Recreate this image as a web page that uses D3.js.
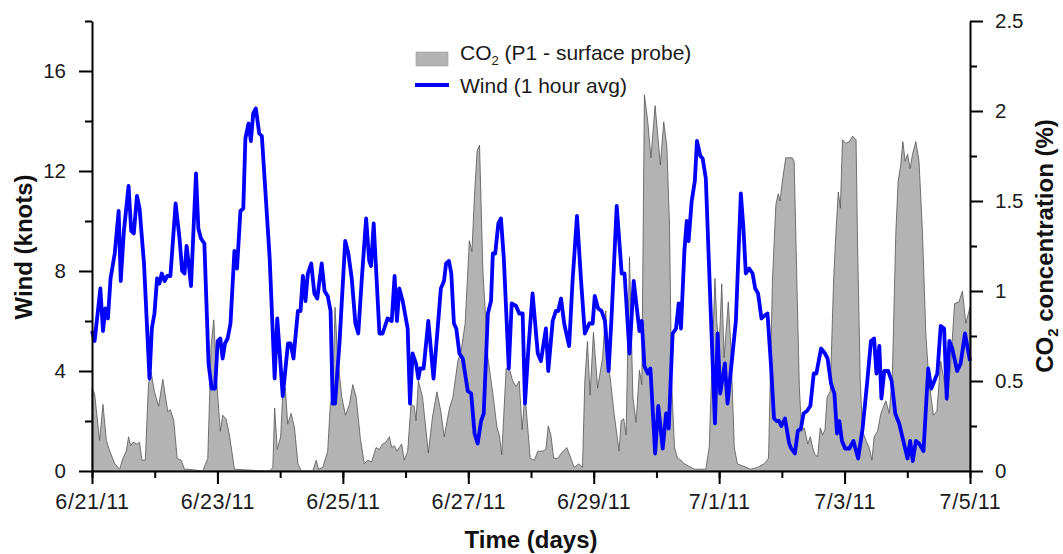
<!DOCTYPE html>
<html>
<head>
<meta charset="utf-8">
<script src="https://cdn.jsdelivr.net/npm/d3@7"></script>
<style>
  body { margin: 0; background: #fff; }
  svg { display: block; font-family: "Liberation Sans", Arial, sans-serif; }
  .axis path, .axis line { stroke: #000; stroke-width: 2; }
  .axis text { fill: #1a1a1a; }
</style>
</head>
<body>
<div id="chart"></div>
<script>
// hours since 6/21/11 00:00 and wind speed (knots), 1 hour average
const windHours = [0, 1, 3.2, 4.2, 5.1, 6.1, 7.1, 8.7, 10.2, 11, 12.2, 14, 15, 16, 17.2, 18.2, 19.9, 22, 22.9, 23.9,
  24.9, 25.8, 26.7, 27.8, 28.8, 30, 32, 33.5, 34.5, 35.4, 36.2, 37, 37.9, 39.8, 40.7, 41.7, 43, 44.6, 45.8, 47.1,
  48.1, 49.1, 50, 50.9, 51.9, 53, 54.5, 55.5, 56.8, 57.9, 58.7, 59.9, 60.8, 61.7, 62.7, 64, 65, 68, 69.9, 70.9,
  73, 75, 76, 77.1, 78.8, 79.8, 80.7, 81.7, 82.6, 83.9, 85.1, 86.2, 87.9, 89, 90.2, 91.3, 92.1, 93, 94.7, 96.9,
  98.1, 99.4, 100.8, 101.9, 103.2, 104.9, 106.1, 106.8, 107.8, 110, 111.2, 113.1, 114.7, 115.8, 116.7, 117.6, 118.9, 120.8, 121.7, 122.7,
  124, 124.9, 125.6, 126.9, 128.7, 130.7, 132.2, 133.5, 134.7, 135.5, 136.6, 137.5, 138.5, 139.4, 140.6, 141.9, 143.8, 145.1, 146.4, 147.6,
  148.9, 149.9, 151.5, 152.7, 153.4, 154.3, 155.5, 156.5, 157.6, 159.5, 160.6, 162.3, 163.5, 164.8, 165.7, 167, 168.6, 170.6, 171.8, 173.7,
  174.6, 176.3, 177.5, 178.4, 179.5, 180.7, 182.6, 183.9, 185.6, 187.1, 188.6, 190.3, 191.6, 192.4, 193.7, 195, 196.3, 197.7, 198.8, 200.8,
  202.7, 203.8, 205.7, 207.3, 209.5, 210.4, 211.4, 212.7, 213.7, 215.5, 216.7, 218.4, 219.7, 220.7, 222.2, 223.5, 224.5, 225.4, 226.7, 227.6,
  228.3, 229.5, 230.7, 231.5, 232.8, 233.7, 234.9, 236.8, 238.4, 239.4, 240.4, 242.2, 243.2, 246.4, 248.3, 249.3, 250.2, 251.5, 252.8, 253.8,
  254.9, 256.2, 257.2, 258.5, 259.8, 261, 262, 262.9, 263.8, 265.2, 266.8, 267.6, 269, 270.1, 271.3, 272.3, 273.6, 274.9, 276.2, 277.2,
  279, 280.5, 281.5, 282.8, 284.1, 285.1, 286, 287, 288.2, 289.8, 291.4, 293.2, 294.9, 296.6, 298.1, 299.3, 300.2, 301.3, 302.1, 303.2,
  304.7, 306, 307.4, 308.9, 310.5, 312.1, 313.1, 314.1, 315.3, 316.5, 318.2, 320, 321.2, 323.5, 324.8, 326.1, 327.1, 328.1, 329.2, 331.1,
  332.4, 334.1, 336];
const windKnots = [5.6, 5.2, 7.3, 5.6, 6.5, 6.1, 7.7, 8.7, 10.4, 7.6, 9.6, 11.4, 9.6, 9.5, 11, 10.5, 8.3, 3.7, 5.7, 6.3,
  7.7, 7.5, 7.9, 7.6, 7.8, 7.8, 10.7, 9.3, 8, 7.9, 9, 8.3, 7.4, 11.9, 9.7, 9.3, 9.1, 4.3, 3.3, 3.3,
  5.2, 5.3, 4.5, 5.1, 5.3, 5.9, 8.8, 8.1, 10.4, 10.5, 13.3, 13.9, 13.2, 14.3, 14.5, 13.5, 13.4, 8.5, 3.7, 6.1,
  3, 5.1, 5.1, 4.5, 6.4, 6.4, 7.8, 6.8, 7.9, 8.3, 7.1, 6.9, 8.3, 7.2, 7, 6.4, 2.7, 2.7, 5.1, 9.2,
  8.7, 7.7, 5.9, 5.5, 7.6, 10.1, 8.4, 8.2, 9.9, 5.5, 5.5, 6.1, 6, 7.8, 6, 7.3, 6.8, 5.7, 2.7, 4.7,
  4.3, 3.7, 4.1, 4.1, 6, 3.7, 5.6, 7.3, 7.6, 8.3, 8.4, 7.9, 5.9, 5.7, 4.7, 4.5, 3.2, 3.1, 1.5, 1.1,
  2, 2.3, 6.3, 6.8, 8.7, 8.7, 9.9, 10.1, 8.5, 4.1, 6.7, 6.6, 6.3, 6.3, 2.7, 4.9, 7.1, 4.7, 4.4, 5.7,
  4, 6, 6.4, 6.4, 6.9, 5.9, 5, 7.6, 10.2, 7.7, 5.5, 5.9, 5.9, 7, 6.5, 6.4, 6, 4, 6.1, 10.6,
  7.9, 7.9, 4.7, 7.6, 5.6, 6, 4.2, 3.9, 4.1, 0.7, 2.6, 0.9, 2.3, 1.7, 5.5, 5.7, 6.7, 5.7, 8.8, 10,
  9.2, 10.8, 11.6, 13.2, 12.6, 12.5, 11.7, 6.3, 1.9, 5.5, 3.1, 4.3, 2.7, 6, 11.1, 9.7, 7.9, 8.1, 7.9, 7.3,
  7.1, 6.1, 6.2, 6.3, 4.3, 2.1, 2, 2, 1.8, 2.1, 1.1, 0.9, 0.7, 1.6, 1.7, 2.3, 2.4, 2.6, 3.9, 3.9,
  4.9, 4.7, 4.5, 3.5, 3.1, 1.5, 2, 1.2, 0.9, 0.9, 1.2, 0.5, 1.7, 3.5, 5.2, 5.3, 3.9, 5, 2.9, 4,
  4, 3.6, 2.3, 1.9, 1.2, 0.5, 1.2, 0.4, 1.2, 1.1, 0.8, 4.1, 3.3, 3.9, 5.8, 5.7, 2.9, 5.2, 4.9, 4,
  4.3, 5.5, 4.4];

// hours since 6/21/11 00:00 and CO2 concentration (%), P1 surface probe
const co2Hours = [0, 1, 2.9, 4.2, 5.5, 6.8, 8.7, 10.6, 11.8, 13.1, 14, 14.8, 15.7, 17.3, 18.2, 19.1, 20.4, 21.6, 22.6, 23.9,
  25.5, 27.1, 29, 30, 31.3, 32.6, 34.1, 35.4, 36.7, 42.4, 44.3, 45.6, 46.6, 47.8, 49.1, 50, 51.3, 52.6, 54.5, 66.1,
  68, 69.2, 69.9, 70.9, 72.2, 73, 74, 74.9, 76.2, 77.5, 78.8, 80.1, 84.5, 85.8, 86.7, 88.3, 90.2, 91.2, 92.1, 93,
  94, 95.6, 97, 98.5, 99.8, 101.1, 102.7, 104.2, 105.5, 107, 108.7, 110, 111.2, 112.5, 113.8, 114.7, 115.7, 116.7, 117.6, 118.5,
  119.5, 120.8, 122.1, 123.3, 124, 124.9, 126.5, 128.7, 130.3, 132, 133.5, 134.8, 136.8, 138.1, 140, 141.3, 142.8, 144.4, 145.4, 146.4,
  147.4, 148.3, 149.6, 151.5, 153.4, 155, 155.9, 156.8, 158.5, 159.7, 161, 162.3, 163.5, 164.6, 165.7, 167.7, 169.3, 170.6, 172.5, 173.7,
  174.6, 175.6, 176.7, 178.2, 179.7, 181.7, 183.3, 184.5, 186.4, 187.7, 188.6, 189.6, 190.6, 191.9, 193.5, 195.4, 196.6, 197.9, 199.8, 201.7,
  202.5, 203.5, 204.4, 205.7, 207, 208.2, 209.5, 210.4, 211.4, 212.7, 213.9, 215.5, 217.5, 218.8, 220, 221, 221.8, 222.9, 224.1, 225.4,
  226.7, 230.5, 234.9, 236.2, 237.4, 238.4, 239.1, 240, 241, 241.9, 243.5, 244.5, 245.8, 247, 252.1, 254.7, 257.2, 258.9, 260.4, 261.7,
  262.6, 263.3, 264.2, 265.5, 266.8, 268, 268.7, 270.7, 271.6, 272.6, 273.9, 274.9, 275.8, 276.7, 277.7, 278.7, 279.6, 280.5, 281.3, 282.5,
  283.8, 284.7, 285.6, 286.4, 287.2, 288.5, 289.8, 291.1, 292.4, 293, 294, 294.9, 296.2, 297.4, 298.5, 299.3, 300.6, 301.9, 303.8, 305.1,
  306.3, 307.6, 308.5, 309.5, 310.3, 311.2, 312.1, 313.1, 314, 315.3, 316.5, 317.8, 319.1, 320.3, 322, 323.3, 324.8, 326.1, 327.3, 328.6,
  330.1, 331.8, 333.1, 334.4, 336];
const co2Pct = [0.46, 0.43, 0.17, 0.37, 0.17, 0.11, 0.04, 0.01, 0.07, 0.11, 0.19, 0.14, 0.16, 0.15, 0.16, 0.06, 0.06, 0.48, 0.55, 0.44,
  0.36, 0.51, 0.33, 0.34, 0.28, 0.07, 0.06, 0.01, 0.01, 0, 0.07, 0.7, 0.84, 0.48, 0.22, 0.31, 0.29, 0.2, 0.01, 0,
  0, 0.02, 0.35, 0.12, 0.19, 0.43, 0.46, 0.26, 0.32, 0.24, 0.04, 0, 0, 0.06, 0.01, 0.02, 0.11, 0.37, 0.41, 0.91,
  0.63, 0.41, 0.31, 0.37, 0.48, 0.41, 0.18, 0.04, 0.06, 0.05, 0.13, 0.12, 0.15, 0.16, 0.19, 0.13, 0.14, 0.11, 0.13, 0.15,
  0.06, 0.11, 0.37, 0.36, 0.28, 0.5, 0.41, 0.1, 0.3, 0.44, 0.33, 0.19, 0.35, 0.41, 0.61, 0.67, 0.82, 1.28, 1.22, 1.54,
  1.78, 1.81, 1.11, 0.63, 0.43, 0.24, 0.2, 0.09, 0.57, 0.57, 0.5, 0.47, 0.5, 0.23, 0.43, 0.07, 0.06, 0.11, 0.11, 0.12,
  0.25, 0.2, 0.07, 0.07, 0.1, 0.13, 0.07, 0.02, 0.04, 0.02, 0.5, 0.72, 0.42, 0.77, 0.46, 0.63, 0.89, 0.57, 0.32, 0.11,
  0.28, 0.29, 0.2, 1.19, 0.41, 0.27, 0.56, 0.48, 2.09, 1.94, 1.74, 2.03, 1.7, 1.94, 1.8, 1.37, 0.5, 0.13, 0.07, 0.06,
  0.04, 0.01, 0.01, 0.13, 0.65, 1.07, 0.83, 0.69, 1.04, 0.63, 0.94, 0.69, 0.13, 0.04, 0.01, 0.02, 0.04, 0.07, 1.06, 1.48,
  1.54, 1.5, 1.61, 1.74, 1.74, 1.74, 1.72, 0.46, 0.22, 0.24, 0.15, 0.19, 0.13, 0.09, 0.08, 0.24, 0.2, 0.23, 0.41, 0.44,
  1.06, 1.33, 1.55, 1.46, 1.84, 1.82, 1.83, 1.86, 1.84, 1.24, 0.5, 0.22, 0.17, 0.13, 0.06, 0.19, 0.22, 0.32, 0.39, 0.32,
  0.54, 1.32, 1.61, 1.7, 1.83, 1.72, 1.76, 1.68, 1.76, 1.83, 1.72, 1.33, 0.76, 0.5, 0.31, 0.33, 0.61, 0.5, 0.39, 0.59,
  0.93, 0.94, 1, 0.82, 0.91];

const windTicks = [0, 4, 8, 12, 16];
const windMinor = [2, 6, 10, 14, 18];
const co2Ticks = [0, 0.5, 1, 1.5, 2, 2.5];
const co2Minor = [0.25, 0.75, 1.25, 1.75, 2.25];

const width = 1063, height = 554;
const plotLeft = 92, plotRight = 970, plotTop = 21, plotBottom = 471;
const start = new Date(2011, 5, 21);
const toDate = h => new Date(start.getTime() + h * 3600e3);

const svg = d3.select("#chart").append("svg")
  .attr("width", width).attr("height", height);

const x = d3.scaleTime().domain([start, new Date(2011, 6, 5)]).range([plotLeft, plotRight]);
const yWind = d3.scaleLinear().domain([0, 18]).range([plotBottom, plotTop]);
const yCo2 = d3.scaleLinear().domain([0, 2.5]).range([plotBottom, plotTop]);

const co2 = co2Hours.map((h, i) => ({ t: toDate(h), v: co2Pct[i] }));
const wind = windHours.map((h, i) => ({ t: toDate(h), v: windKnots[i] }));

// CO2 area
svg.append("path")
  .datum(co2)
  .attr("d", d3.area().x(d => x(d.t)).y0(yCo2(0)).y1(d => yCo2(d.v)))
  .attr("fill", "#b3b3b3")
  .attr("stroke", "#555")
  .attr("stroke-width", 0.8);

// wind line
svg.append("path")
  .datum(wind)
  .attr("d", d3.line().x(d => x(d.t)).y(d => yWind(d.v)))
  .attr("fill", "none")
  .attr("stroke", "#0000ff")
  .attr("stroke-width", 3.8)
  .attr("stroke-linejoin", "round");

// axes: minor ticks first, then major with labels
function styleAxis(g, size) {
  g.attr("class", "axis").attr("font-family", null).attr("font-size", null);
  g.selectAll("text").style("font-size", size + "px");
}

svg.append("g").attr("transform", `translate(${plotLeft},0)`)
  .call(d3.axisLeft(yWind).tickValues(windMinor).tickSize(7).tickSizeOuter(0).tickFormat(""))
  .call(g => styleAxis(g, 20));
svg.append("g").attr("transform", `translate(${plotLeft},0)`)
  .call(d3.axisLeft(yWind).tickValues(windTicks).tickSize(13).tickSizeOuter(0).tickPadding(13))
  .call(g => styleAxis(g, 20.5))
  .call(g => g.select(".domain").remove());

svg.append("g").attr("transform", `translate(${plotRight},0)`)
  .call(d3.axisRight(yCo2).tickValues(co2Minor).tickSize(7).tickSizeOuter(0).tickFormat(""))
  .call(g => styleAxis(g, 20));
svg.append("g").attr("transform", `translate(${plotRight},0)`)
  .call(d3.axisRight(yCo2).tickValues(co2Ticks).tickSize(13).tickSizeOuter(0).tickPadding(12)
    .tickFormat(d3.format("~g")))
  .call(g => styleAxis(g, 20.5))
  .call(g => g.select(".domain").remove());

svg.append("g").attr("transform", `translate(0,${plotBottom})`)
  .call(d3.axisBottom(x).ticks(d3.timeDay.every(1)).tickSize(7).tickSizeOuter(0).tickFormat(""))
  .call(g => styleAxis(g, 20));
svg.append("g").attr("transform", `translate(0,${plotBottom})`)
  .call(d3.axisBottom(x).ticks(d3.timeDay.every(2)).tickSize(13).tickSizeOuter(0).tickPadding(10)
    .tickFormat(d3.timeFormat("%-m/%-d/%y")))
  .call(g => styleAxis(g, 21.5))
  .call(g => g.selectAll("text").style("letter-spacing", "0.6px"))
  .call(g => g.select(".domain").remove());

// axis titles
svg.append("text")
  .attr("transform", `translate(32,${(plotTop + plotBottom) / 2 + 1}) rotate(-90)`)
  .attr("text-anchor", "middle")
  .attr("font-weight", "bold").attr("font-size", 24).attr("fill", "#111")
  .text("Wind (knots)");

const co2Title = svg.append("text")
  .attr("transform", `translate(1053,${(plotTop + plotBottom) / 2}) rotate(-90)`)
  .attr("text-anchor", "middle")
  .attr("font-weight", "bold").attr("font-size", 24).attr("fill", "#111");
co2Title.append("tspan").text("CO");
co2Title.append("tspan").attr("font-size", 15).attr("dy", 5).text("2");
co2Title.append("tspan").attr("dy", -5).text(" concentration (%)");

svg.append("text")
  .attr("x", (plotLeft + plotRight) / 2).attr("y", 548)
  .attr("text-anchor", "middle")
  .attr("font-weight", "bold").attr("font-size", 24).attr("fill", "#111")
  .text("Time (days)");

// legend
const legend = svg.append("g");
legend.append("rect")
  .attr("x", 416).attr("y", 52).attr("width", 32).attr("height", 14)
  .attr("fill", "#b3b3b3").attr("stroke", "#999").attr("stroke-width", 0.6);
legend.append("line")
  .attr("x1", 415).attr("x2", 449).attr("y1", 85).attr("y2", 85)
  .attr("stroke", "#0000ff").attr("stroke-width", 3.8);
const leg1 = legend.append("text").attr("x", 460).attr("y", 59.5)
  .attr("font-size", 21).attr("fill", "#1a1a1a");
leg1.append("tspan").text("CO");
leg1.append("tspan").attr("font-size", 13).attr("dy", 5).text("2");
leg1.append("tspan").attr("dy", -5).text(" (P1 - surface probe)");
legend.append("text").attr("x", 460).attr("y", 92.5)
  .attr("font-size", 21).attr("fill", "#1a1a1a")
  .text("Wind (1 hour avg)");
</script>
</body>
</html>
